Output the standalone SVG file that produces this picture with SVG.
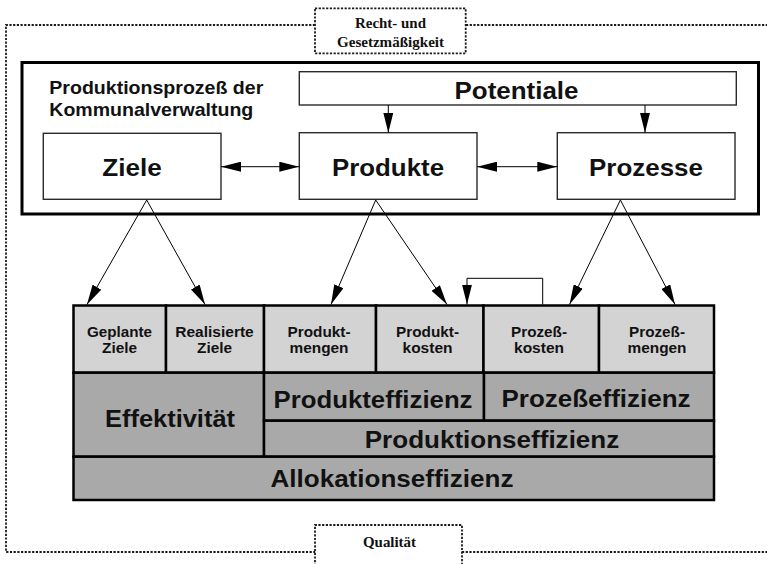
<svg xmlns="http://www.w3.org/2000/svg" width="767" height="564" viewBox="0 0 767 564">
<style>
.dot{fill:none;stroke:#1a1a1a;stroke-width:1.8;stroke-dasharray:2.2 1.5}
.box{fill:#fff;stroke:#2a2a2a;stroke-width:1.4}
.main{fill:#fff;stroke:#000;stroke-width:3}
.lt{fill:#d3d3d3;stroke:#000;stroke-width:2.5}
.dk{fill:#a9a9a9;stroke:#000;stroke-width:2.5}
.con{fill:none;stroke:#000;stroke-width:1}
.s{font-family:"Liberation Sans",Arial,sans-serif;font-weight:bold;fill:#111;text-anchor:middle}
.c{font-size:15px}
.t{font-family:"Liberation Serif","Times New Roman",serif;font-weight:bold;fill:#111;text-anchor:middle;font-size:14px}
</style>
<defs>
<marker id="ah" markerUnits="userSpaceOnUse" markerWidth="20" markerHeight="10" refX="20" refY="5" orient="auto-start-reverse" viewBox="0 0 20 10">
<path d="M0,0 L20,5 L0,10 z" fill="#000"/>
</marker>
</defs>
<g id="frame">
<path class="dot" d="M315,25 H6 V552 H315"/>
<path class="dot" d="M466,25 H770"/>
<path class="dot" d="M462,552 H770"/>
</g>
<g id="recht">
<rect class="dot" x="315" y="8.3" width="150.7" height="45" fill="#fff"/>
<text class="t" x="390.5" y="28.3" textLength="71" lengthAdjust="spacingAndGlyphs">Recht- und</text>
<text class="t" x="390.5" y="46.7" textLength="107" lengthAdjust="spacingAndGlyphs">Gesetzmäßigkeit</text>
</g>
<g id="qualitaet">
<path class="dot" d="M315,566 V525 H462 V566"/>
<text class="t" x="389.5" y="547.3" textLength="53" lengthAdjust="spacingAndGlyphs">Qualität</text>
</g>
<g id="produktionsprozess">
<rect class="main" x="22" y="62.5" width="736.5" height="151.5"/>
<text class="s" style="text-anchor:start" x="49.3" y="94" font-size="18.5" textLength="214" lengthAdjust="spacingAndGlyphs">Produktionsprozeß der</text>
<text class="s" style="text-anchor:start" x="49.3" y="116" font-size="18.5" textLength="204" lengthAdjust="spacingAndGlyphs">Kommunalverwaltung</text>
</g>
<g id="potentiale">
<rect class="box" x="299.3" y="71.7" width="437" height="33.3"/>
<text class="s" x="516.5" y="98.5" font-size="24" textLength="124" lengthAdjust="spacingAndGlyphs">Potentiale</text>
</g>
<g id="ziele">
<rect class="box" x="43.3" y="133.3" width="177.7" height="66"/>
<text class="s" x="132" y="175.5" font-size="24" textLength="59.5" lengthAdjust="spacingAndGlyphs">Ziele</text>
</g>
<g id="produkte">
<rect class="box" x="299.3" y="132.7" width="177.7" height="66.6"/>
<text class="s" x="388" y="175.5" font-size="24" textLength="112" lengthAdjust="spacingAndGlyphs">Produkte</text>
</g>
<g id="prozesse">
<rect class="box" x="557.3" y="132.7" width="177.7" height="66.6"/>
<text class="s" x="646" y="175.5" font-size="24" textLength="114" lengthAdjust="spacingAndGlyphs">Prozesse</text>
</g>
<g id="tabelle">
<g id="geplante-ziele">
<rect class="lt" x="73.5" y="305.5" width="92.5" height="67.2"/>
<text class="s c" x="119.5" y="336.7" textLength="65" lengthAdjust="spacingAndGlyphs">Geplante</text>
<text class="s c" x="119.5" y="353.3" textLength="35" lengthAdjust="spacingAndGlyphs">Ziele</text>
</g>
<g id="realisierte-ziele">
<rect class="lt" x="166" y="305.5" width="98" height="67.2"/>
<text class="s c" x="214.5" y="336.7" textLength="78.5" lengthAdjust="spacingAndGlyphs">Realisierte</text>
<text class="s c" x="214.5" y="353.3" textLength="35" lengthAdjust="spacingAndGlyphs">Ziele</text>
</g>
<g id="produktmengen">
<rect class="lt" x="264" y="305.5" width="112" height="67.2"/>
<text class="s c" x="319" y="336.7" textLength="63" lengthAdjust="spacingAndGlyphs">Produkt-</text>
<text class="s c" x="319" y="353.3" textLength="59" lengthAdjust="spacingAndGlyphs">mengen</text>
</g>
<g id="produktkosten">
<rect class="lt" x="376" y="305.5" width="107.5" height="67.2"/>
<text class="s c" x="427.5" y="336.7" textLength="63" lengthAdjust="spacingAndGlyphs">Produkt-</text>
<text class="s c" x="427.5" y="353.3" textLength="50" lengthAdjust="spacingAndGlyphs">kosten</text>
</g>
<g id="prozesskosten">
<rect class="lt" x="483.5" y="305.5" width="115.5" height="67.2"/>
<text class="s c" x="539" y="336.7" textLength="56" lengthAdjust="spacingAndGlyphs">Prozeß-</text>
<text class="s c" x="539" y="353.3" textLength="50" lengthAdjust="spacingAndGlyphs">kosten</text>
</g>
<g id="prozessmengen">
<rect class="lt" x="599" y="305.5" width="115" height="67.2"/>
<text class="s c" x="657" y="336.7" textLength="56" lengthAdjust="spacingAndGlyphs">Prozeß-</text>
<text class="s c" x="657" y="353.3" textLength="59" lengthAdjust="spacingAndGlyphs">mengen</text>
</g>
<g id="effektivitaet">
<rect class="dk" x="73.5" y="372.7" width="190.5" height="84"/>
<text class="s" font-size="24" x="170" y="426.7" textLength="130" lengthAdjust="spacingAndGlyphs">Effektivität</text>
</g>
<g id="produkteffizienz">
<rect class="dk" x="264" y="372.7" width="220" height="48"/>
<text class="s" font-size="24" x="373" y="408.3" textLength="199" lengthAdjust="spacingAndGlyphs">Produkteffizienz</text>
</g>
<g id="prozesseffizienz">
<rect class="dk" x="484" y="372.7" width="230" height="48"/>
<text class="s" font-size="24" x="596" y="406.7" textLength="189" lengthAdjust="spacingAndGlyphs">Prozeßeffizienz</text>
</g>
<g id="produktionseffizienz">
<rect class="dk" x="264" y="420.7" width="450" height="36"/>
<text class="s" font-size="24" x="492" y="448.3" textLength="254.5" lengthAdjust="spacingAndGlyphs">Produktionseffizienz</text>
</g>
<g id="allokationseffizienz">
<rect class="dk" x="73.5" y="456.7" width="640.5" height="43.3"/>
<text class="s" font-size="24" x="392" y="487" textLength="243" lengthAdjust="spacingAndGlyphs">Allokationseffizienz</text>
</g>
</g>
<g id="connectors">
<line class="con" x1="221" y1="166.7" x2="299.3" y2="166.7" marker-start="url(#ah)" marker-end="url(#ah)"/>
<line class="con" x1="477" y1="166.7" x2="557.3" y2="166.7" marker-start="url(#ah)" marker-end="url(#ah)"/>
<line class="con" x1="388.3" y1="105" x2="388.3" y2="132.7" marker-end="url(#ah)"/>
<line class="con" x1="645" y1="105" x2="645" y2="132.7" marker-end="url(#ah)"/>
<line class="con" x1="146.7" y1="200" x2="87" y2="304.5" marker-end="url(#ah)"/>
<line class="con" x1="146.7" y1="200" x2="205" y2="304.5" marker-end="url(#ah)"/>
<line class="con" x1="375.7" y1="200" x2="331" y2="304.5" marker-end="url(#ah)"/>
<line class="con" x1="375.7" y1="200" x2="447" y2="304.5" marker-end="url(#ah)"/>
<line class="con" x1="620.4" y1="200" x2="569.5" y2="304.5" marker-end="url(#ah)"/>
<line class="con" x1="620.4" y1="200" x2="675" y2="304.5" marker-end="url(#ah)"/>
<path class="con" d="M542.7,304.5 V278.3 H467 V304.5" marker-end="url(#ah)"/>
</g>
</svg>
